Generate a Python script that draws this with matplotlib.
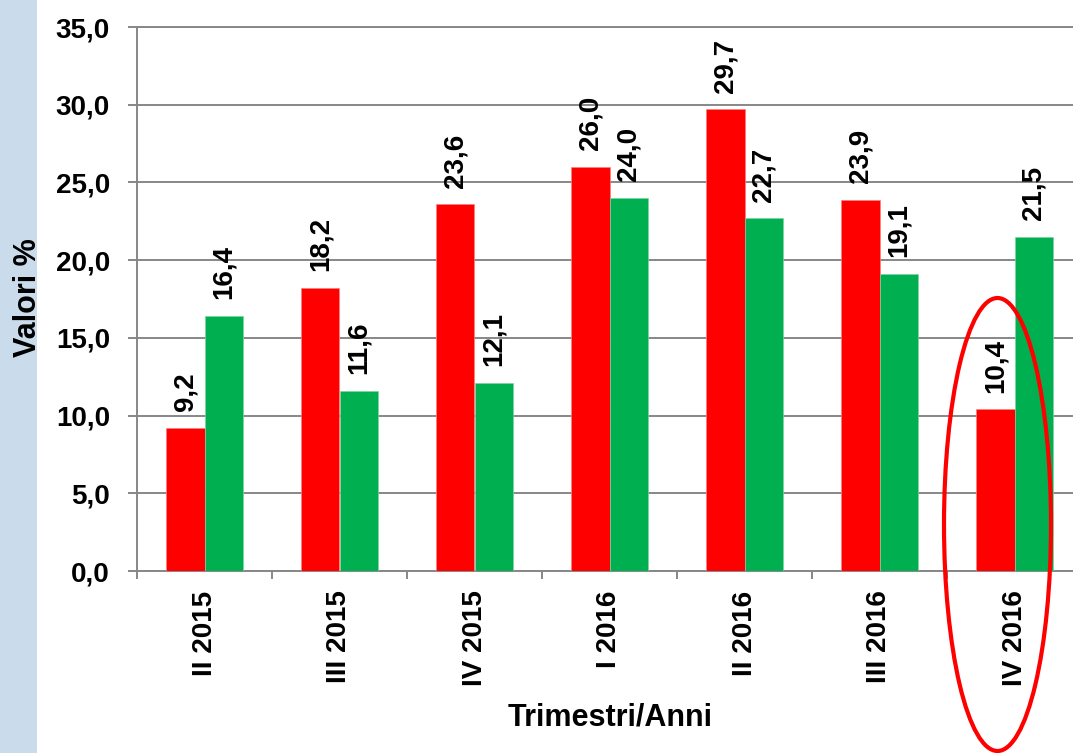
import matplotlib
matplotlib.use('Agg')
import matplotlib.pyplot as plt
from matplotlib.patches import Ellipse, Rectangle
from matplotlib.ticker import FixedLocator, FuncFormatter
import numpy as np

plt.rcParams['font.family'] = ['Liberation Sans', 'DejaVu Sans']
plt.rcParams['font.weight'] = 'bold'

quarters = ["II 2015", "III 2015", "IV 2015", "I 2016", "II 2016", "III 2016", "IV 2016"]
red_vals = [9.2, 18.2, 23.6, 26.0, 29.7, 23.9, 10.4]
green_vals = [16.4, 11.6, 12.1, 24.0, 22.7, 19.1, 21.5]

RED = '#ff0000'
GREEN = '#00b050'
GRID = '#878787'
STRIP = '#cadcec'

W, H = 1073, 753
fig = plt.figure(figsize=(W / 100, H / 100), dpi=100)
fig.patch.set_facecolor('white')

# light blue strip at the left edge
fig.add_artist(Rectangle((0, 0), 37 / W, 1, transform=fig.transFigure,
                         facecolor=STRIP, edgecolor='none', zorder=0))

# axes run past the right edge (chart is cropped in the reference)
ax = fig.add_axes([137 / W, 1 - 571 / H, 945 / W, 544 / H])
ax.set_xlim(-0.5, 6.5)
ax.set_ylim(0, 35)

x = np.arange(len(quarters))
bw = 0.285
bars_r = ax.bar(x - bw / 2, red_vals, width=bw, color=RED, edgecolor='#ff8080', linewidth=0.5, zorder=3)
bars_g = ax.bar(x + bw / 2, green_vals, width=bw, color=GREEN, edgecolor='#80d0a0', linewidth=0.5, zorder=3)

for bars, vals in [(bars_r, red_vals), (bars_g, green_vals)]:
    for b, v in zip(bars, vals):
        ax.annotate(f'{v:.1f}'.replace('.', ','),
                    xy=(b.get_x() + b.get_width() / 2, v), xytext=(0, 12),
                    textcoords='offset points', rotation=90,
                    ha='center', va='bottom', fontsize=20, fontweight='bold',
                    color='black', zorder=5)

# grid and spines
ax.set_axisbelow(True)
ax.yaxis.grid(True, color=GRID, linewidth=1.4)
ax.set_yticks(np.arange(0, 36, 5))
ax.yaxis.set_major_formatter(FuncFormatter(lambda v, p: f'{v:.1f}'.replace('.', ',')))
for side in ['right']:
    ax.spines[side].set_visible(False)
for side in ['left', 'bottom', 'top']:
    ax.spines[side].set_color(GRID)
    ax.spines[side].set_linewidth(1.4)

# x ticks: marks between categories, labels at centres
ax.xaxis.set_major_locator(FixedLocator(np.arange(-0.5, 7, 1)))
ax.xaxis.set_major_formatter(FuncFormatter(lambda v, p: ''))
ax.xaxis.set_minor_locator(FixedLocator(x))
ax.set_xticklabels(quarters, minor=True, rotation=90, fontsize=20, fontweight='bold')
ax.tick_params(axis='x', which='major', direction='out', length=6, width=1.4, color=GRID)
ax.tick_params(axis='x', which='minor', length=0, pad=14)
for lab in ax.get_xticklabels(minor=True):
    lab.set_va('top')
ax.tick_params(axis='y', direction='out', length=6.5, width=1.4, color=GRID, pad=13, labelsize=20)
for lab in ax.get_yticklabels():
    lab.set_fontweight('bold')

# axis titles
fig.text(28 / W, 1 - 298 / H, 'Valori %', rotation=90, ha='center', va='center',
         fontsize=22, fontweight='bold')
fig.text(610 / W, 1 - 717 / H, 'Trimestri/Anni', ha='center', va='center',
         fontsize=22, fontweight='bold')

# red ellipse highlighting the last quarter
fig.add_artist(Ellipse((997.5 / W, 1 - 524.5 / H), 107 / W, 453 / H,
                       transform=fig.transFigure, fill=False,
                       edgecolor=RED, linewidth=3, zorder=10))

fig.savefig('out.png', dpi=100, facecolor='white')
